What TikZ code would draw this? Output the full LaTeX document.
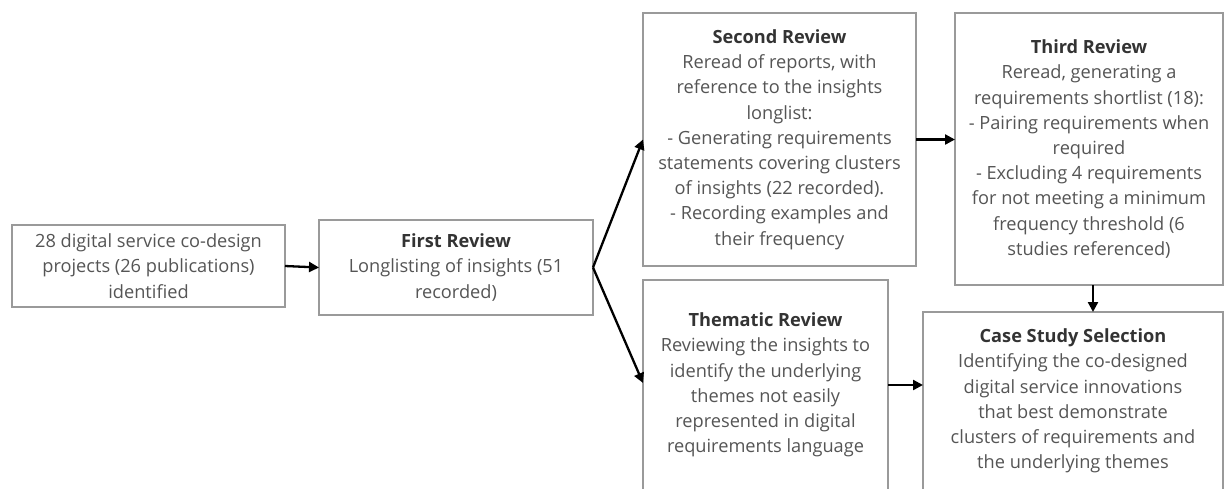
\documentclass[tikz,border=0pt]{standalone}
\usepackage{fontspec}
\setmainfont{Open Sans}
\usetikzlibrary{arrows.meta,calc}
\definecolor{boxline}{HTML}{9A9A9A}
\definecolor{bodytext}{HTML}{555555}
\definecolor{titletext}{HTML}{333333}
\tikzset{
  stagebox/.style={draw=boxline, line width=1.3pt, fill=white, inner sep=0pt, outer sep=0pt,
    align=center, text=bodytext, font=\fontsize{18.2}{25.2}\selectfont},
  flow/.style={draw=black, line width=2.3pt, -{Triangle[length=10pt,width=10pt]}}
}
\newcommand{\ttl}[1]{{\bfseries\color{titletext}#1}}
\begin{document}
\begin{tikzpicture}[x=1pt,y=-1pt]
\clip (0,0) rectangle (1224,488);
\fill[white] (0,0) rectangle (1224,488);
\node[stagebox, minimum width=273pt, minimum height=82pt] (src) at (148.5,266)
  {28 digital service co-design\\projects (26 publications)\\identified};
\node[stagebox, minimum width=274pt, minimum height=95pt] (first) at (456,267.5)
  {\ttl{First Review}\\Longlisting of insights (51\\recorded)};
\node[stagebox, minimum width=273pt, minimum height=253pt] (second) at (779.5,139.5)
  {\ttl{Second Review}\\Reread of reports, with\\reference to the insights\\longlist:\\- Generating requirements\\statements covering clusters\\of insights (22 recorded).\\- Recording examples and\\their frequency};
\node[stagebox, minimum width=268pt, minimum height=272pt] (third) at (1089,149)
  {\ttl{Third Review}\\Reread, generating a\\requirements shortlist (18):\\- Pairing requirements when\\required\\- Excluding 4 requirements\\for not meeting a minimum\\frequency threshold (6\\studies referenced)};
\node[stagebox, minimum width=245pt, minimum height=210pt] (thematic) at (765.5,385)
  {\ttl{Thematic Review}\\Reviewing the insights to\\identify the underlying\\themes not easily\\represented in digital\\requirements language};
\node[stagebox, minimum width=300pt, minimum height=178pt] (case) at (1073,401)
  {\ttl{Case Study Selection}\\Identifying the co-designed\\digital service innovations\\that best demonstrate\\clusters of requirements and\\the underlying themes};
\coordinate (downstart) at ($(third.south)+(4,0)$);
\coordinate (downend) at (downstart |- case.north);
\coordinate (thin) at ($(thematic.west)+(0,-2)$);
\draw[flow] (src.east) -- (first.west);
\draw[flow] (first.east) -- (second.west);
\draw[flow] (first.east) -- (thin);
\draw[flow] (second.east) -- (second.east -| third.west);
\draw[flow] (downstart) -- (downend);
\draw[flow] (thematic.east) -- (thematic.east -| case.west);
\end{tikzpicture}
\end{document}
